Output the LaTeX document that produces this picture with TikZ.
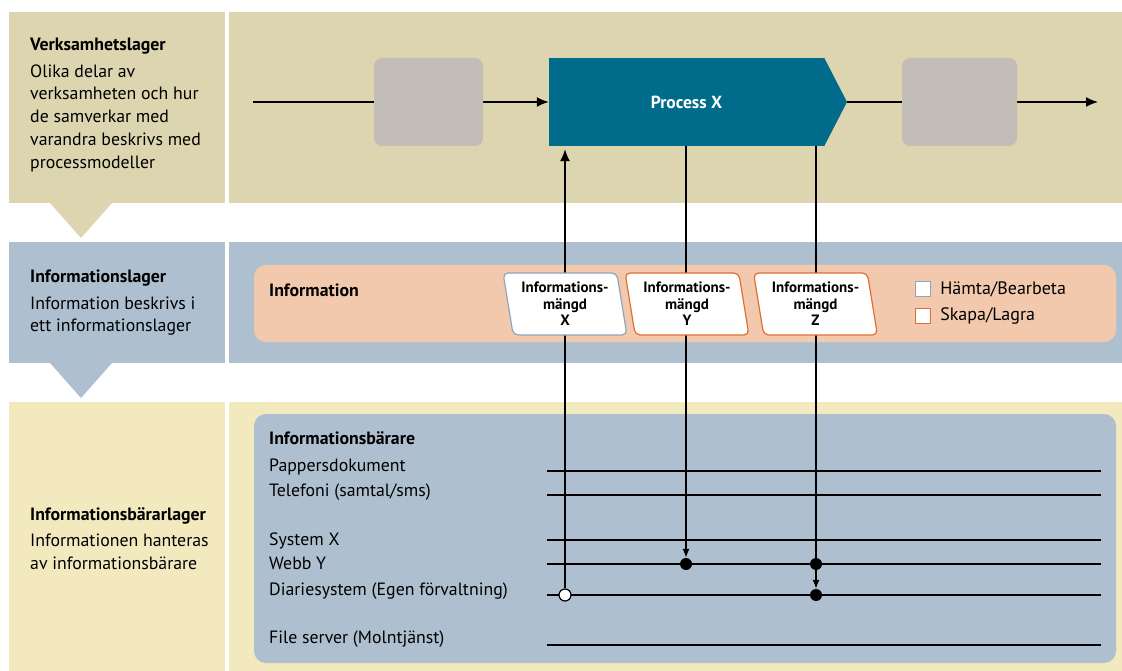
\documentclass[tikz,border=0pt]{standalone}
\usepackage{fontspec}
\setmainfont{PT Sans}
\usepackage{xcolor}
\usetikzlibrary{arrows.meta,shapes.geometric,positioning}

\definecolor{verkbg}{HTML}{DDD5B0}
\definecolor{infobg}{HTML}{AEC0D0}
\definecolor{barbg}{HTML}{F2E9BE}
\definecolor{peach}{HTML}{F2C9AD}
\definecolor{actgrey}{HTML}{C2BDB6}
\definecolor{procblue}{HTML}{006B8A}
\definecolor{skapa}{HTML}{E06E32}
\definecolor{hamta}{HTML}{8CA5B9}

\begin{document}
\begin{tikzpicture}[x=1pt,y=-1pt,
    txt/.style={inner sep=0pt,anchor=base west,font=\fontsize{17.8}{21}\selectfont},
    head/.style={txt,font=\fontsize{17.8}{21}\selectfont\bfseries},
    actbox/.style={fill=actgrey,rounded corners=8pt,minimum height=88pt,inner sep=0pt},
    flow/.style={line width=1.5pt,-{Latex[length=12pt,width=10pt]}},
    link/.style={line width=1.4pt},
    uparr/.style={link,-{Latex[length=12pt,width=10pt]},shorten >=3pt},
    linkarr/.style={link,-{Latex[length=9pt,width=7pt]}},
    carrier/.style={line width=1.2pt},
    mangd/.style={trapezium,trapezium left angle=101,trapezium right angle=79,
      trapezium stretches=true,minimum width=124pt,minimum height=62pt,
      fill=white,rounded corners=5pt,line width=1.2pt,inner sep=0pt,align=center,
      font=\fontsize{15}{16.5}\selectfont\bfseries},
    dot/.style={circle,fill=black,minimum size=12pt,inner sep=0pt},
    opendot/.style={circle,draw=black,fill=white,line width=1.2pt,minimum size=12pt,inner sep=0pt},
    legsq/.style={fill=white,line width=1.2pt,minimum size=15pt,inner sep=0pt}]
  \useasboundingbox (0,0) rectangle (1122,671);

  % Layers
  \fill[verkbg] (9,12) rectangle (225,203);
  \fill[verkbg] (229,12) rectangle (1122,203);
  \fill[verkbg] (50,203) -- (112,203) -- (81,238) -- cycle;
  \fill[infobg] (9,242) rectangle (225,363);
  \fill[infobg] (229,242) rectangle (1122,363);
  \fill[infobg] (50,363) -- (112,363) -- (81,398) -- cycle;
  \fill[barbg] (9,402) rectangle (225,671);
  \fill[barbg] (229,402) rectangle (1122,671);

  % Inner panels
  \fill[peach,rounded corners=12pt] (254,265) rectangle (1116,342);
  \fill[infobg,rounded corners=12pt] (254,414) rectangle (1116,663);

  % Layer captions
  \node[head] (verkH) at (30,51) {Verksamhetslager};
  \foreach \y/\t [count=\i] in {77.5/Olika delar av,100/verksamheten och hur,
      122.5/de samverkar med,145.5/varandra beskrivs med,168.5/processmodeller}
    \node[txt] (verk\i) at (30,\y) {\t};
  \node[head] (infoH) at (30,283) {Informationslager};
  \node[txt] (info1) at (30,309) {Information beskrivs i};
  \node[txt] (info2) at (30,331.5) {ett informationslager};
  \node[head] (barH) at (30,520) {Informationsbärarlager};
  \node[txt] (bar1) at (30,546.5) {Informationen hanteras};
  \node[txt] (bar2) at (30,569) {av informationsbärare};

  % Carriers
  \node[head] (carrH) at (269,444) {Informationsbärare};
  \node[txt] (carr1) at (269,471) {Pappersdokument};
  \node[txt] (carr2) at (269,496) {Telefoni (samtal/sms)};
  \node[txt] (carr3) at (269,545) {System X};
  \node[txt] (carr4) at (269,569) {Webb Y};
  \node[txt] (carr5) at (269,595) {Diariesystem (Egen förvaltning)};
  \node[txt] (carr6) at (269,643) {File server (Molntjänst)};
  \foreach \y [count=\i] in {471,495,540,564,595,645} {
    \coordinate (cL\i) at (547,\y);
    \coordinate (cR\i) at (1101,\y);
    \draw[carrier] (cL\i) -- (cR\i);
  }

  % Process flow
  \node[fill=procblue,minimum width=275pt,minimum height=88pt,inner sep=0pt,
    text=white,font=\fontsize{17.5}{21}\selectfont\bfseries] (procX) at (686.5,102) {Process X};
  \coordinate (procTip) at (847,102);
  \fill[procblue] (procX.north east) -- (procTip) -- (procX.south east) -- cycle;
  \coordinate (flowIn) at (253,102);
  \coordinate (flowOut) at (1098,102);
  \draw[flow] (flowIn) -- (procX.west);
  \draw[flow] (procTip) -- (flowOut);
  \node[actbox,minimum width=109pt] (actA) at (428.5,102) {};
  \node[actbox,minimum width=115pt] (actB) at (959.5,102) {};

  % Dots
  \node[opendot] (hamX) at (565,595) {};
  \node[dot] (webY) at (686,564) {};
  \node[dot] (webZ) at (816,564) {};
  \node[dot] (diaZ) at (816,595) {};

  % Links
  \draw[uparr] (hamX) -- (hamX |- procX.south);
  \draw[linkarr] (procX.south -| webY) -- (webY);
  \draw[link] (procX.south -| webZ) -- (webZ);
  \draw[linkarr] (webZ) -- (diaZ);

  % Information
  \node[head] (infoLbl) at (269,296) {Information};
  \node[mangd,draw=hamta] (mX) at (565,304) {Informations-\\mängd\\X};
  \node[mangd,draw=skapa] (mY) at (687,304) {Informations-\\mängd\\Y};
  \node[mangd,draw=skapa] (mZ) at (815.5,304) {Informations-\\mängd\\Z};

  % Legend
  \node[legsq,draw=hamta] (legA) at (923,289) {};
  \node[legsq,draw=skapa] (legB) at (923,316) {};
  \node[anchor=west,inner sep=0pt,right=9pt of legA,font=\fontsize{18}{21}\selectfont] (legAtxt) {Hämta/Bearbeta};
  \node[anchor=west,inner sep=0pt,right=9pt of legB,font=\fontsize{18}{21}\selectfont] (legBtxt) {Skapa/Lagra};
\end{tikzpicture}
\end{document}
